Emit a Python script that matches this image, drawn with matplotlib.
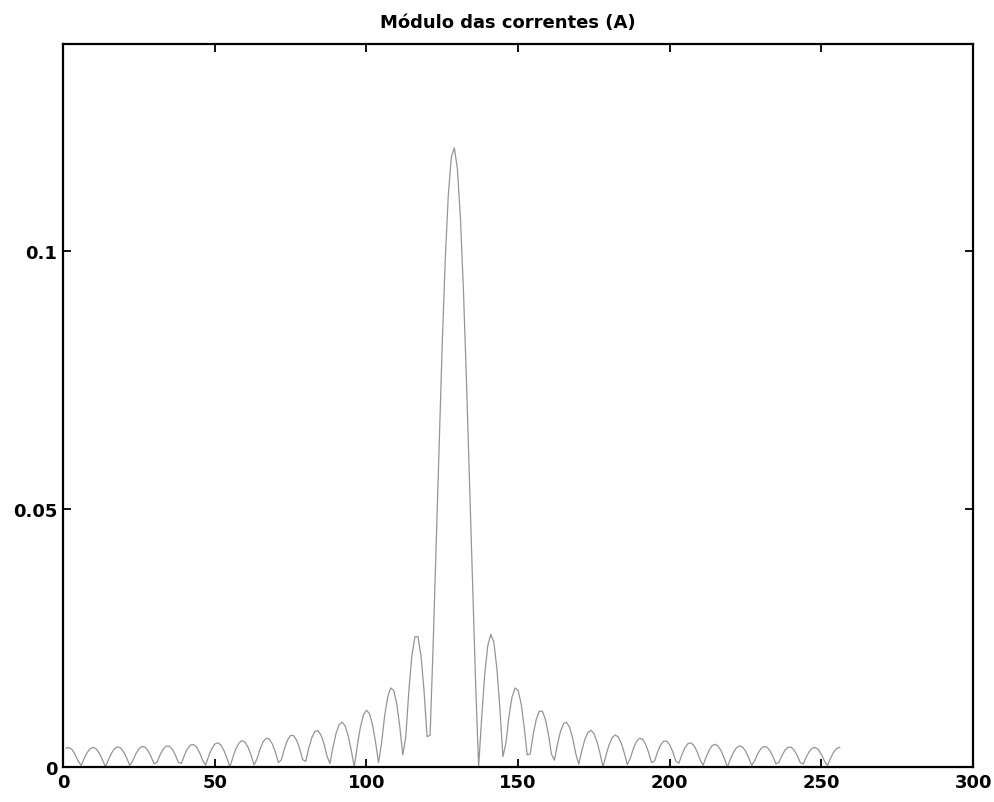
import numpy as np
import matplotlib.pyplot as plt

# Amplitude of the current on each sample (A), read lobe by lobe off the scan
current = [
    # samples 1-30
    0.00366, 0.00378, 0.00334, 0.00242, 0.00115,
    0.00029, 0.00169, 0.00284, 0.00358, 0.00380, 0.00347, 0.00264, 0.00142,
    0.00000, 0.00146, 0.00270, 0.00356, 0.00390, 0.00367, 0.00291, 0.00173, 0.00030,
    0.00121, 0.00255, 0.00351, 0.00397, 0.00386, 0.00318, 0.00204, 0.00061,
    # samples 31-63
    0.00093, 0.00236, 0.00344, 0.00403, 0.00403, 0.00344, 0.00236, 0.00093,
    0.00067, 0.00225, 0.00350, 0.00424, 0.00437, 0.00386, 0.00280, 0.00133,
    0.00036, 0.00209, 0.00351, 0.00442, 0.00470, 0.00429, 0.00326, 0.00176,
    0.00000, 0.00191, 0.00354, 0.00465, 0.00510, 0.00480, 0.00381, 0.00226, 0.00039,
    # samples 64-95
    0.00169, 0.00356, 0.00492, 0.00556, 0.00540, 0.00445, 0.00286, 0.00086,
    0.00141, 0.00357, 0.00520, 0.00609, 0.00609, 0.00520, 0.00357, 0.00141,
    0.00108, 0.00363, 0.00565, 0.00685, 0.00705, 0.00624, 0.00452, 0.00214,
    0.00067, 0.00386, 0.00650, 0.00819, 0.00869, 0.00794, 0.00603, 0.00325,
    # samples 96-120
    0.00000, 0.00411, 0.00763, 0.01004, 0.01099, 0.01035, 0.00821, 0.00488, 0.00084,
    0.00465, 0.00980, 0.01353, 0.01530, 0.01485, 0.01225, 0.00787, 0.00235,
    0.00586, 0.01479, 0.02157, 0.02523, 0.02523, 0.02157, 0.01479, 0.00586,
    # main lobe, samples 121-136
    0.00614, 0.02354, 0.04295, 0.06292, 0.08189, 0.09826, 0.11073, 0.11812,
    0.11988, 0.11582, 0.10629, 0.09212, 0.07452, 0.05496, 0.03504, 0.01626,
    # samples 137-169
    0.00000, 0.00961, 0.01782, 0.02345, 0.02568, 0.02419, 0.01919, 0.01140, 0.00197,
    0.00465, 0.00980, 0.01353, 0.01530, 0.01485, 0.01225, 0.00787, 0.00235,
    0.00251, 0.00633, 0.00923, 0.01080, 0.01080, 0.00923, 0.00633, 0.00251,
    0.00133, 0.00445, 0.00692, 0.00839, 0.00864, 0.00764, 0.00554, 0.00262,
    # samples 170-202
    0.00054, 0.00315, 0.00530, 0.00668, 0.00710, 0.00648, 0.00492, 0.00265,
    0.00000, 0.00232, 0.00430, 0.00566, 0.00620, 0.00583, 0.00463, 0.00275, 0.00047,
    0.00169, 0.00356, 0.00492, 0.00556, 0.00540, 0.00445, 0.00286, 0.00086,
    0.00116, 0.00293, 0.00428, 0.00501, 0.00501, 0.00428, 0.00293, 0.00116,
    # samples 203-235
    0.00072, 0.00240, 0.00374, 0.00453, 0.00467, 0.00413, 0.00299, 0.00142,
    0.00034, 0.00195, 0.00329, 0.00414, 0.00440, 0.00401, 0.00305, 0.00164,
    0.00000, 0.00153, 0.00284, 0.00374, 0.00410, 0.00386, 0.00306, 0.00182, 0.00031,
    0.00121, 0.00255, 0.00351, 0.00397, 0.00386, 0.00318, 0.00204, 0.00061,
    # samples 236-256
    0.00089, 0.00224, 0.00327, 0.00383, 0.00383, 0.00327, 0.00224, 0.00089,
    0.00058, 0.00194, 0.00302, 0.00366, 0.00378, 0.00334, 0.00242, 0.00115,
    0.00029, 0.00169, 0.00284, 0.00358, 0.00380,
]

x_ticks = [0, 50, 100, 150, 200, 250, 300]
y_ticks = [0, 0.05, 0.1]
y_tick_labels = ['0', '0.05', '0.1']
title = 'Módulo das correntes (A)'

plt.rcParams['font.family'] = ['DejaVu Sans']

fig = plt.figure(figsize=(9.94, 8.03), dpi=100)
ax = fig.add_axes([0.0634, 0.0436, 0.9156, 0.9004])

samples = np.arange(1, len(current) + 1)
ax.plot(samples, current, color='#959595', linewidth=0.9)

ax.set_xlim(0, 300)
ax.set_ylim(0, 0.14)
ax.set_xticks(x_ticks)
ax.set_xticklabels([str(t) for t in x_ticks])
ax.set_yticks(y_ticks)
ax.set_yticklabels(y_tick_labels)

ax.tick_params(direction='in', length=6, width=1.3, top=True, right=True,
               labelsize=13, pad=4)
for lbl in ax.get_xticklabels() + ax.get_yticklabels():
    lbl.set_fontweight('bold')
for side in ax.spines.values():
    side.set_linewidth(1.6)

t = ax.set_title(title, fontsize=13, fontweight='bold', pad=12)
t.set_x(0.489)

fig.savefig('out.png', dpi=100)
